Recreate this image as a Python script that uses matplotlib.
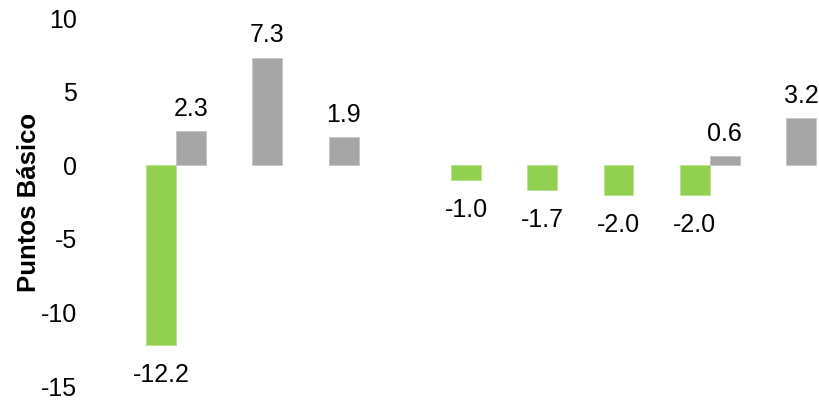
import numpy as np
import matplotlib
matplotlib.use('Agg')
import matplotlib.pyplot as plt

# values (nan = no bar)
groups = list(range(9))
green_vals = [-12.2, np.nan, np.nan, np.nan, -1.0, -1.7, -2.0, -2.0, np.nan]
gray_vals = [2.3, 7.3, 1.9, np.nan, np.nan, np.nan, np.nan, 0.6, 3.2]
yticks = [-15, -10, -5, 0, 5, 10]

plt.rcParams['font.family'] = ['Liberation Sans', 'DejaVu Sans']

fig = plt.figure(figsize=(8.2, 4), dpi=100)
ax = fig.add_axes([0.1683, 0.035, 0.8366, 0.92])

x = np.arange(len(groups))
w = 0.393
gb = ax.bar(x - w/2, np.nan_to_num(green_vals), w, color='#92D050', edgecolor='#b8e08a', linewidth=0.6)
rb = ax.bar(x + w/2, np.nan_to_num(gray_vals), w, color='#A6A6A6', edgecolor='#c4c4c4', linewidth=0.6)

# hide the empty bars, label the rest
for bars, vals in ((gb, green_vals), (rb, gray_vals)):
    for b, v in zip(bars, vals):
        if np.isnan(v):
            b.set_visible(False)
            continue
        if v >= 0:
            ax.annotate('{:.1f}'.format(v), (b.get_x() + b.get_width()/2, v),
                        xytext=(0, 7.5), textcoords='offset points',
                        ha='center', va='bottom', fontsize=18)
        else:
            ax.annotate('{:.1f}'.format(v), (b.get_x() + b.get_width()/2, v),
                        xytext=(0, -13), textcoords='offset points',
                        ha='center', va='top', fontsize=18)

ax.set_xlim(-0.5, len(groups) - 0.5)
ax.set_ylim(-15, 10)
ax.set_yticks(yticks)
ax.set_yticklabels([str(t) for t in yticks], fontsize=18)
ax.tick_params(axis='y', length=0, pad=44)
ax.set_xticks([])
for s in ax.spines.values():
    s.set_visible(False)

ax.set_ylabel('Puntos Básico', fontsize=18.5, fontweight='bold')
ax.yaxis.set_label_coords(-0.141, 0.5)

fig.savefig('out.png', dpi=100)
